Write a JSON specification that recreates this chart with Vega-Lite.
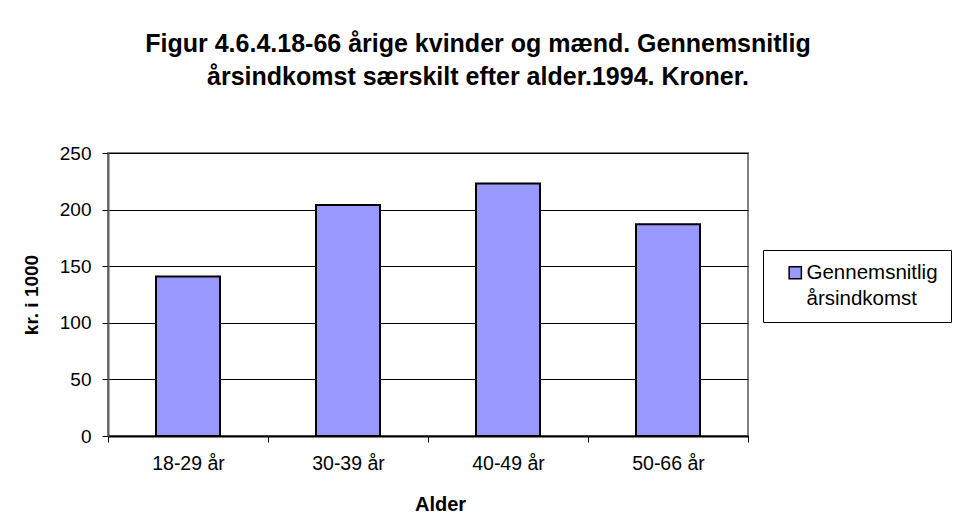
{
  "$schema": "https://vega.github.io/schema/vega-lite/v6.json",
  "width": 640,
  "height": 283,
  "autosize": {"type": "none"},
  "padding": {"left": 108, "top": 153, "right": 215, "bottom": 85},
  "background": "white",
  "config": {
    "font": "Liberation Sans",
    "view": {"stroke": "#808080", "strokeWidth": 2},
    "axis": {"labelFont": "Liberation Sans", "titleFont": "Liberation Sans", "labelColor": "black", "titleColor": "black"},
    "style": {"guide-label": {"lineHeight": 26}}
  },
  "title": {
    "text": ["Figur 4.6.4.18-66 årige kvinder og mænd. Gennemsnitlig", "årsindkomst særskilt efter alder.1994. Kroner."],
    "font": "Liberation Sans",
    "fontSize": 25,
    "fontWeight": "bold",
    "lineHeight": 33,
    "anchor": "middle",
    "dx": 50,
    "offset": 54,
    "color": "black"
  },
  "data": {
    "values": [
      {"alder": "18-29 år", "indkomst": 141, "serie": "Gennemsnitlig årsindkomst"},
      {"alder": "30-39 år", "indkomst": 204, "serie": "Gennemsnitlig årsindkomst"},
      {"alder": "40-49 år", "indkomst": 223, "serie": "Gennemsnitlig årsindkomst"},
      {"alder": "50-66 år", "indkomst": 187, "serie": "Gennemsnitlig årsindkomst"}
    ]
  },
  "mark": {"type": "bar", "stroke": "black", "strokeWidth": 2, "orient": "vertical", "width": {"band": 0.4}},
  "encoding": {
    "x": {
      "field": "alder",
      "type": "nominal",
      "sort": null,
      "scale": {"paddingInner": 0, "paddingOuter": 0},
      "axis": {
        "title": "Alder",
        "titleFontSize": 20,
        "titleFontWeight": "bold",
        "titlePadding": 22,
        "titleX": 332,
        "labelAngle": 0,
        "labelFontSize": 19.5,
        "labelPadding": 12,
        "tickBand": "extent",
        "tickSize": 6,
        "tickColor": "black",
        "domainColor": "black",
        "domainWidth": 2,
        "grid": false
      }
    },
    "y": {
      "field": "indkomst",
      "type": "quantitative",
      "scale": {"domain": [0, 250], "nice": false},
      "axis": {
        "title": "kr. i 1000",
        "titleFontSize": 19,
        "titleFontWeight": "bold",
        "titlePadding": 18,
        "values": [0, 50, 100, 150, 200, 250],
        "labelFontSize": 19,
        "labelPadding": 11,
        "tickSize": 6,
        "tickColor": "black",
        "domainColor": "#606060",
        "domainWidth": 2,
        "grid": true,
        "gridColor": "black",
        "gridWidth": 1,
        "gridOpacity": 1
      }
    },
    "color": {
      "field": "serie",
      "type": "nominal",
      "scale": {"range": ["#9999FF"]},
      "legend": {
        "title": null,
        "orient": "none",
        "legendX": 655,
        "legendY": 97,
        "strokeColor": "black",
        "fillColor": "white",
        "padding": 12.5,
        "symbolOffset": 9.5,
        "labelOffset": 1,
        "symbolType": "square",
        "symbolSize": 150,
        "symbolStrokeColor": "black",
        "symbolStrokeWidth": 1.5,
        "symbolOpacity": 1,
        "labelFontSize": 20.5,
        "labelColor": "black",
        "labelFont": "Liberation Sans",
        "labelExpr": "['Gennemsnitlig', 'årsindkomst']",
        "labelLimit": 300
      }
    }
  }
}
